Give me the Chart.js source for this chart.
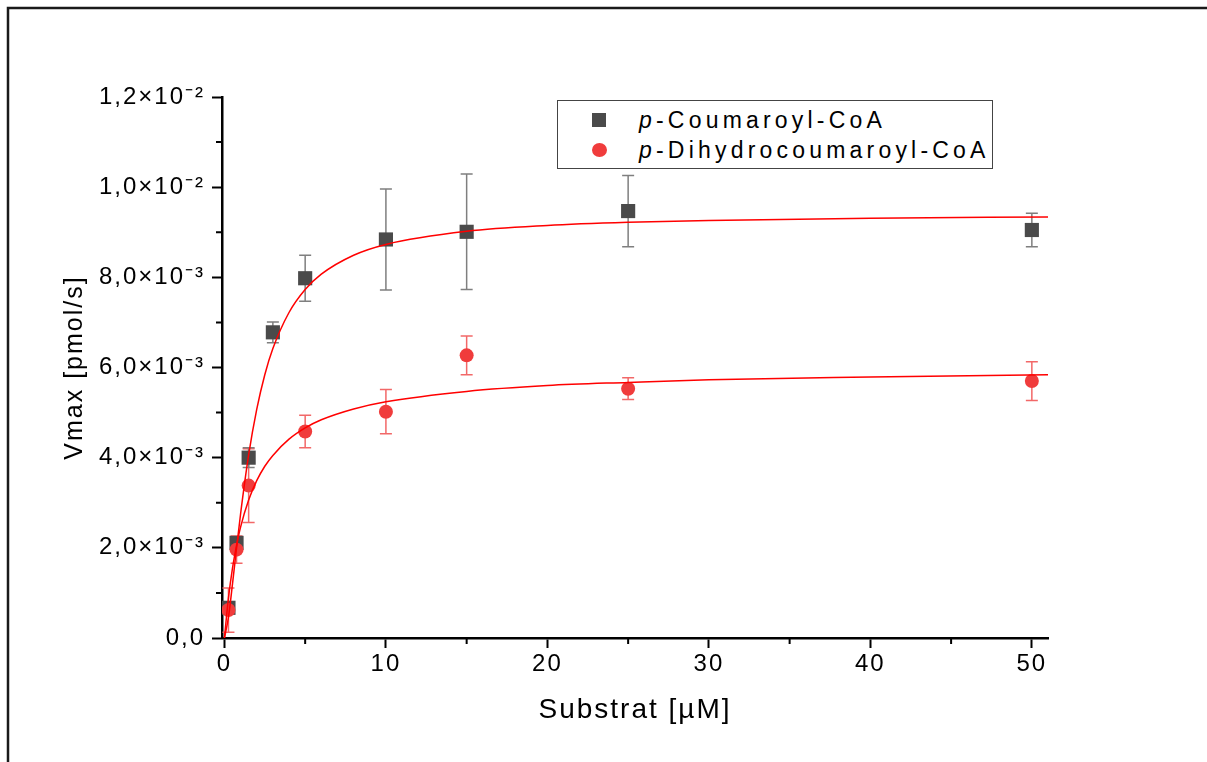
<!DOCTYPE html>
<html>
<head>
<meta charset="utf-8">
<script src="https://cdn.jsdelivr.net/npm/chart.js@4/dist/chart.umd.min.js"></script>
<style>
  body { margin: 0; background: #fff; }
  #wrap { position: relative; width: 1207px; height: 762px; }
  #legend {
    position: absolute; left: 557px; top: 100px; width: 434px; height: 67px;
    border: 1.5px solid #444; background: #fff;
    font-family: 'Liberation Sans', Arial, sans-serif; font-size: 23px; letter-spacing: 4.2px; color: #000;
  }
  #legend div { position: absolute; left: 81px; height: 30px; line-height: 30px; white-space: nowrap; }
  #legend .mk { position: absolute; left: -47px; top: 8px; width: 14px; height: 14px; }
</style>
</head>
<body>
<div id="wrap">
  <canvas id="kinetics" width="1207" height="762"></canvas>
  <div id="legend">
    <div style="top:4px"><span class="mk" style="background:#4a4a4a"></span><i>p</i>-Coumaroyl-CoA</div>
    <div style="top:34px"><span class="mk" style="background:#f03c3c;border-radius:50%;width:15px;height:14px"></span><i>p</i>-Dihydrocoumaroyl-CoA</div>
  </div>
</div>
<script>
// measured points
var substrate = [0.25, 0.75, 1.5, 3, 5, 10, 15, 25, 50];
var vCoumaroyl = [0.00067, 0.00211, 0.0040, 0.00678, 0.00798, 0.00884, 0.00901, 0.00947, 0.00905];
var errCoumaroyl = [0.0001, 0.00013, 0.00022, 0.00023, 0.00051, 0.00112, 0.00128, 0.00079, 0.00037];
var vDihydro = [0.00062, 0.00196, 0.00338, null, 0.00458, 0.00502, 0.00627, 0.00553, 0.0057];
var errDihydro = [0.00049, 0.0003, 0.00082, null, 0.00036, 0.00049, 0.00043, 0.00024, 0.00043];

// fitted curves
var fitX = [0, 0.25, 0.5, 0.75, 1, 1.5, 2, 2.5, 3, 4, 5, 6, 8, 10, 15, 20, 25, 30, 40, 51];
var fitCoumaroyl = [0, 0.00046, 0.0012, 0.00199, 0.00275, 0.00406, 0.00507, 0.00584, 0.00642, 0.00722, 0.00773, 0.00807, 0.00849, 0.00873, 0.00902, 0.00915, 0.00922, 0.00926, 0.00931, 0.00934];
var fitDihydro = [0, 0.00089, 0.00155, 0.00205, 0.00246, 0.00306, 0.00349, 0.00381, 0.00405, 0.00441, 0.00466, 0.00484, 0.00508, 0.00524, 0.00547, 0.0056, 0.00567, 0.00573, 0.00579, 0.00584];

var xTicks = [0, 10, 20, 30, 40, 50];
var xMinor = [5, 15, 25, 35, 45];
var yTicks = [0, 0.002, 0.004, 0.006, 0.008, 0.010, 0.012];
var yMinor = [0.001, 0.003, 0.005, 0.007, 0.009, 0.011];
var yTickLabels = ['0,0', '2,0×10⁻³', '4,0×10⁻³', '6,0×10⁻³', '8,0×10⁻³', '1,0×10⁻²', '1,2×10⁻²'];

function pts(xs, ys) {
  return xs.map(function (x, i) { return {x: x, y: ys[i]}; });
}

Chart.defaults.font.family = "'Liberation Sans', Arial, sans-serif";
Chart.defaults.color = '#000';

var spacing = {
  id: 'spacing',
  beforeUpdate: function (chart) { chart.ctx.letterSpacing = '2px'; },
  beforeDraw: function (chart) {
    var ctx = chart.ctx;
    ctx.letterSpacing = '2px';
    // page frame
    ctx.save();
    ctx.strokeStyle = '#1a1a1a';
    ctx.lineWidth = 2.5;
    ctx.beginPath();
    ctx.moveTo(8, 762);
    ctx.lineTo(8, 8);
    ctx.lineTo(1207, 8);
    ctx.stroke();
    ctx.restore();
  }
};

var errorBars = {
  id: 'errorBars',
  beforeDatasetsDraw: function (chart) {
    var ctx = chart.ctx, xs = chart.scales.x, ys = chart.scales.y;
    ctx.save();
    chart.data.datasets.forEach(function (ds) {
      if (!ds.err) return;
      ctx.strokeStyle = ds.errColor;
      ctx.lineWidth = 1.5;
      ds.data.forEach(function (p, i) {
        if (p.y == null) return;
        var px = xs.getPixelForValue(p.x);
        var top = ys.getPixelForValue(p.y + ds.err[i]);
        var bot = ys.getPixelForValue(p.y - ds.err[i]);
        ctx.beginPath();
        ctx.moveTo(px, top); ctx.lineTo(px, bot);
        ctx.moveTo(px - 6, top); ctx.lineTo(px + 6, top);
        ctx.moveTo(px - 6, bot); ctx.lineTo(px + 6, bot);
        ctx.stroke();
      });
    });
    ctx.restore();
  },
  afterDraw: function (chart) {
    // minor ticks
    var ctx = chart.ctx, xs = chart.scales.x, ys = chart.scales.y;
    var a = chart.chartArea;
    ctx.save();
    ctx.strokeStyle = '#000';
    ctx.lineWidth = 2;
    ctx.beginPath();
    xMinor.forEach(function (v) {
      var px = xs.getPixelForValue(v);
      ctx.moveTo(px, a.bottom); ctx.lineTo(px, a.bottom + 6);
    });
    yMinor.forEach(function (v) {
      var py = ys.getPixelForValue(v);
      ctx.moveTo(a.left, py); ctx.lineTo(a.left - 6, py);
    });
    ctx.stroke();
    ctx.restore();
  }
};

new Chart(document.getElementById('kinetics'), {
  type: 'scatter',
  data: {
    datasets: [{
      label: 'Fit p-Coumaroyl-CoA',
      data: pts(fitX, fitCoumaroyl),
      showLine: true,
      borderColor: '#ff0000',
      borderWidth: 1.5,
      pointRadius: 0,
      cubicInterpolationMode: 'monotone'
    }, {
      label: 'Fit p-Dihydrocoumaroyl-CoA',
      data: pts(fitX, fitDihydro),
      showLine: true,
      borderColor: '#ff0000',
      borderWidth: 1.5,
      pointRadius: 0,
      cubicInterpolationMode: 'monotone'
    }, {
      label: 'p-Dihydrocoumaroyl-CoA',
      data: pts(substrate, vDihydro),
      err: errDihydro,
      errColor: '#f26868',
      pointStyle: 'circle',
      pointRadius: 7,
      backgroundColor: '#f03c3c',
      borderWidth: 0
    }, {
      label: 'p-Coumaroyl-CoA',
      data: pts(substrate, vCoumaroyl),
      err: errCoumaroyl,
      errColor: '#7f7f7f',
      pointStyle: 'rect',
      pointRadius: 10,
      backgroundColor: '#4a4a4a',
      borderWidth: 0
    }]
  },
  options: {
    responsive: false,
    animation: false,
    devicePixelRatio: 1,
    layout: { padding: { left: 0, top: 97, right: 159, bottom: 0 } },
    plugins: {
      legend: { display: false },
      tooltip: { enabled: false }
    },
    scales: {
      x: {
        type: 'linear',
        min: -0.15,
        max: 51,
        afterBuildTicks: function (s) { s.ticks = xTicks.map(function (v) { return {value: v}; }); },
        afterFit: function (s) { s.height = 124; },
        ticks: { font: { size: 24 }, padding: 2, maxRotation: 0, autoSkip: false },
        grid: { drawOnChartArea: false, tickLength: 10, tickWidth: 2, tickColor: '#000' },
        border: { color: '#000', width: 2.5 },
        title: { display: true, text: 'Substrat [µM]', font: { size: 28 }, padding: { top: 0, bottom: 35 } }
      },
      y: {
        type: 'linear',
        min: 0,
        max: 0.012,
        afterBuildTicks: function (s) { s.ticks = yTicks.map(function (v) { return {value: v}; }); },
        afterFit: function (s) { s.width = 222; },
        ticks: {
          font: { size: 24 }, padding: 7, autoSkip: false,
          callback: function (v, i) { return yTickLabels[i]; }
        },
        grid: { drawOnChartArea: false, tickLength: 10, tickWidth: 2, tickColor: '#000' },
        border: { color: '#000', width: 2.5 },
        title: { display: true, text: 'Vmax [pmol/s]', font: { size: 25 }, padding: { top: 60, bottom: 0 } }
      }
    }
  },
  plugins: [spacing, errorBars]
});
</script>
</body>
</html>
